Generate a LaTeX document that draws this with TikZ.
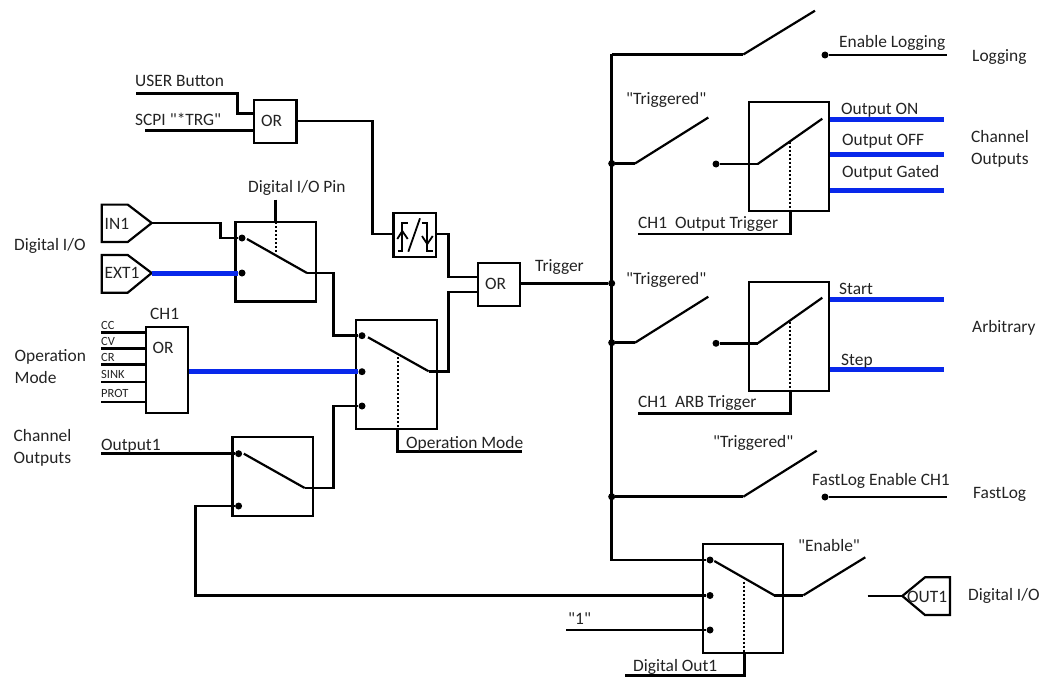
\documentclass[tikz,border=0pt]{standalone}
\usepackage{fontspec}
\setmainfont{Carlito}[Ligatures=TeXOff]
\definecolor{sigblue}{RGB}{8,40,235}
\definecolor{txt}{RGB}{35,35,35}
\tikzset{
  wire/.style={line width=2.7pt,black,line join=miter},
  bluewire/.style={line width=5pt,sigblue},
  lever/.style={line width=2.2pt,black},
  dots/.style={line width=2pt,black,dash pattern=on 2pt off 2pt},
  blk/.style={draw=black,line width=2.2pt,rectangle,inner sep=0pt,minimum width=#1},
  blkh/.style={minimum height=#1},
  pin/.style={circle,fill=black,inner sep=0pt,minimum size=7pt},
  lbl/.style={anchor=west,inner sep=0pt,text=txt,font=\fontsize{17.4}{20}\selectfont,align=left,text height=11pt,text depth=1pt},
  small/.style={anchor=west,inner sep=0pt,text=txt,font=\fontsize{12.5}{14}\selectfont,text height=8pt,text depth=2pt},
  glyph/.style={line width=1.8pt,black},
  pent/.style={line width=2.2pt,black,line join=miter}
}
\begin{document}
\begin{tikzpicture}[x=1pt,y=-1pt]
\useasboundingbox (0,0) rectangle (1047,677);
% ---- blocks
\node[blk=42.5pt,blkh=43pt] (orA) at (275.3,121.5) {};
\node[lbl,anchor=center] (orAt) at (271.5,121) {OR};
\node[blk=42.5pt,blkh=43.5pt] (edge) at (414.7,235) {};
\node[blk=42pt,blkh=43pt] (orB) at (499,284.5) {};
\node[lbl,anchor=center] (orBt) at (495.5,284) {OR};
\node[blk=80.5pt,blkh=79.5pt] (swA) at (275.7,261.7) {};
\node[blk=80.5pt,blkh=109pt] (swB) at (396.6,374.5) {};
\node[blk=80.5pt,blkh=79.5pt] (swC) at (272.7,476.4) {};
\node[blk=42pt,blkh=86pt] (orC) at (166.7,369.7) {};
\node[lbl,anchor=center] (orCt) at (163,348) {OR};
\node[blk=80.3pt,blkh=109pt] (swD) at (789.2,156.8) {};
\node[blk=80.3pt,blkh=109pt] (swE) at (789.2,336.2) {};
\node[blk=80pt,blkh=109pt] (swF) at (743.3,598.8) {};
% ---- pins
\node[pin] (a1) at (242,238) {};
\node[pin] (a2) at (242,273) {};
\node[pin] (b1) at (362,335.7) {};
\node[pin] (b2) at (362,371.7) {};
\node[pin] (b3) at (362,406) {};
\node[pin] (c1) at (238.6,453.7) {};
\node[pin] (c2) at (238.6,506) {};
\node[pin] (f1) at (710,560) {};
\node[pin] (f2) at (710,595.5) {};
\node[pin] (f3) at (710,630) {};
\node[pin] (bTrig) at (611.7,283.3) {};
\node[pin] (bS) at (611.7,163.5) {};
\node[pin] (bE) at (611.7,342.7) {};
\node[pin] (bF) at (611.7,496.7) {};
\node[pin] (cL) at (825,55) {};
\node[pin] (cS) at (716,164) {};
\node[pin] (cE) at (716,343.3) {};
\node[pin] (cF) at (825,497) {};
% ---- free end points
\coordinate (usr) at (136,93.3);
\coordinate (scpi) at (145,130.7);
\coordinate (o1) at (101,453.7);
\coordinate (cc) at (101,332.7);
\coordinate (cv) at (101,348.3);
\coordinate (cr) at (101,364.3);
\coordinate (sink) at (101,382);
\coordinate (prot) at (101,402);
\coordinate (busTop) at (611.7,54.5);
\coordinate (busBot) at (611.7,560);
\coordinate (one) at (566,630);
% ---- input pentagons
\draw[pent] (101.7,204.6) coordinate (in1a) -- (127.7,204.6) -- (151.7,223) coordinate (in1) -- (127.7,242) -- (101.7,242) -- cycle;
\draw[pent] (101.7,255) -- (127.7,255) -- (151.7,273) coordinate (ext1) -- (127.7,292.7) -- (101.7,292.7) -- cycle;
\draw[pent] (902.3,596) coordinate (out1) -- (925,577.3) -- (950,577.3) -- (950,615) -- (925,615) -- cycle;
\node[lbl] (in1t) at (104.5,224) {IN1};
\node[lbl] (ext1t) at (104.5,273) {EXT1};
\node[lbl] (out1t) at (907,597) {OUT1};
% ---- black wires
\draw[wire] (usr) -- (237.7,93.3) |- (orA.west |- 0,113.5);
\draw[wire] (scpi) -- (scpi -| orA.west);
\draw[wire] (orA.east |- 0,121) -| (372.7,234) -- (edge.west |- 0,234);
\draw[wire] (edge.east |- 0,234) -| (448.5,277) -- (orB.west |- 0,277);
\draw[wire] (orB.west |- 0,292) -| (448.5,371.3) -- (428.7,371.3);
\draw[wire] (in1) -- (220.7,223) |- (a1);
\draw[wire] (307,273) -- (333.5,273) |- (b1);
\draw[wire] (304.7,488) -- (333.5,488) |- (b3);
\draw[wire] (o1) -- (c1);
\draw[wire] (c2) -- (195.6,506) |- (f2);
\draw[wire] (cc) -- (cc -| orC.west);
\draw[wire] (cv) -- (cv -| orC.west);
\draw[wire] (cr) -- (cr -| orC.west);
\draw[wire] (sink) -- (sink -| orC.west);
\draw[wire] (prot) -- (prot -| orC.west);
\draw[wire] (orB.east |- bTrig) -- (bTrig);
\draw[wire] (busTop) -- (busBot) -- (f1);
\draw[wire] (one) -- (f3);
\draw[wire] (cL) -- (947,55);
\draw[wire] (cF) -- (947,497);
% ---- blue wires
\draw[bluewire] (ext1) -- (a2);
\draw[bluewire] (orC.east |- b2) -- (b2);
\foreach \n/\yy in {s1/119.7,s2/154.7,s3/190} {\draw[bluewire] (swD.east |- 0,\yy) -- (944,\yy);}
\foreach \n/\yy in {e1/299,e2/369.3} {\draw[bluewire] (swE.east |- 0,\yy) -- (944,\yy);}
% ---- levers
\draw[lever] (247,239) -- (307,273);
\draw[lever] (368,337.3) -- (428.7,371.3);
\draw[lever] (243.8,453.7) -- (304.7,488);
\draw[wire] (busTop) -- (743.3,54.5);
\draw[lever] (743.3,54.5) -- (815,10.7);
\draw[wire] (bS) -- (635,163.5);
\draw[lever] (635,163.5) -- (708.3,117.5);
\draw[wire] (cS) -- (757.7,164);
\draw[lever] (757.7,164) -- (822.3,118.7);
\draw[wire] (bE) -- (635,342.7);
\draw[lever] (635,342.7) -- (708.3,296.7);
\draw[wire] (cE) -- (757.7,343.3);
\draw[lever] (757.7,343.3) -- (822.3,297.7);
\draw[wire] (bF) -- (743.3,496.7);
\draw[lever] (743.3,496.7) -- (816.7,450.7);
\draw[lever] (714.3,561) -- (774.3,595.3);
\draw[wire] (774.3,595.3) -- (803.3,595.3);
\draw[lever] (803.3,595.3) -- (865.3,557.3);
\draw[wire] (867.7,596) -- (out1);
% ---- control lines
\draw[wire] (275.7,199.5) -- (swA.north -| 275.7,0);
\draw[dots] (275.7,222) -- (275.7,252);
\draw[dots] (397.7,357) -- (397.7,429);
\draw[wire] (397.7,429) |- (522,451.7);
\draw[dots] (790.3,141.7) -- (790.3,211);
\draw[wire] (790.3,211) |- (638.3,234);
\draw[dots] (790.3,321.7) -- (790.3,390.7);
\draw[wire] (790.3,390.7) |- (638.3,413.3);
\draw[dots] (744.3,581.7) -- (744.3,653);
\draw[wire] (744.3,653) |- (625,675.7);
% ---- edge glyph
\draw[glyph] (397.5,251) -- (402.3,251) -- (402.3,223.3) -- (408,223.3);
\draw[glyph] (397.3,239) -- (402.3,231) -- (407.7,239);
\draw[glyph] (408.3,251.7) -- (420,218.3);
\draw[glyph] (421.7,223.3) -- (427.3,223.3) -- (427.3,251) -- (432.7,251);
\draw[glyph] (422,236) -- (427.3,244) -- (432.7,236);
% ---- texts
\node[lbl] (t1) at (135,82) {USER Button};
\node[lbl] (t2) at (135,120) {SCPI "*TRG"};
\node[lbl] (t3) at (248,187) {Digital I/O Pin};
\node[lbl] (t4) at (14,245) {Digital I/O};
\node[lbl] (t5) at (14.5,356) {Operation};
\node[lbl] (t6) at (14.5,378) {Mode};
\node[lbl] (t7) at (13.5,436) {Channel};
\node[lbl] (t8) at (13.5,458) {Outputs};
\node[lbl] (t9) at (101,445) {Output1};
\node[lbl] (t10) at (150,314) {CH1};
\node[small] (t11) at (101,326) {CC};
\node[small] (t12) at (101,342) {CV};
\node[small] (t13) at (101,358) {CR};
\node[small] (t14) at (101,375) {SINK};
\node[small] (t15) at (101,394) {PROT};
\node[lbl] (t16) at (406,443) {Operation Mode};
\node[lbl] (t17) at (535,266) {Trigger};
\node[lbl] (t18) at (839,43) {Enable Logging};
\node[lbl] (t19) at (972,57) {Logging};
\node[lbl] (t20) at (626,99) {"Triggered"};
\node[lbl] (t21) at (841,109) {Output ON};
\node[lbl] (t22) at (842,140) {Output OFF};
\node[lbl] (t23) at (842,172) {Output Gated};
\node[lbl] (t24) at (971,137) {Channel};
\node[lbl] (t25) at (971,159) {Outputs};
\node[lbl] (t26) at (638,223) {CH1\ \ Output Trigger};
\node[lbl] (t27) at (626,279) {"Triggered"};
\node[lbl] (t28) at (839,289) {Start};
\node[lbl] (t29) at (841,360) {Step};
\node[lbl] (t30) at (972,327) {Arbitrary};
\node[lbl] (t31) at (638,402) {CH1\ \ ARB Trigger};
\node[lbl] (t32) at (713,442) {"Triggered"};
\node[lbl] (t33) at (812,480) {FastLog Enable CH1};
\node[lbl] (t34) at (973,493) {FastLog};
\node[lbl] (t35) at (798,546) {"Enable"};
\node[lbl] (t36) at (968,595) {Digital I/O};
\node[lbl] (t37) at (568,619) {"1"};
\node[lbl] (t38) at (633,666) {Digital Out1};
\end{tikzpicture}
\end{document}
